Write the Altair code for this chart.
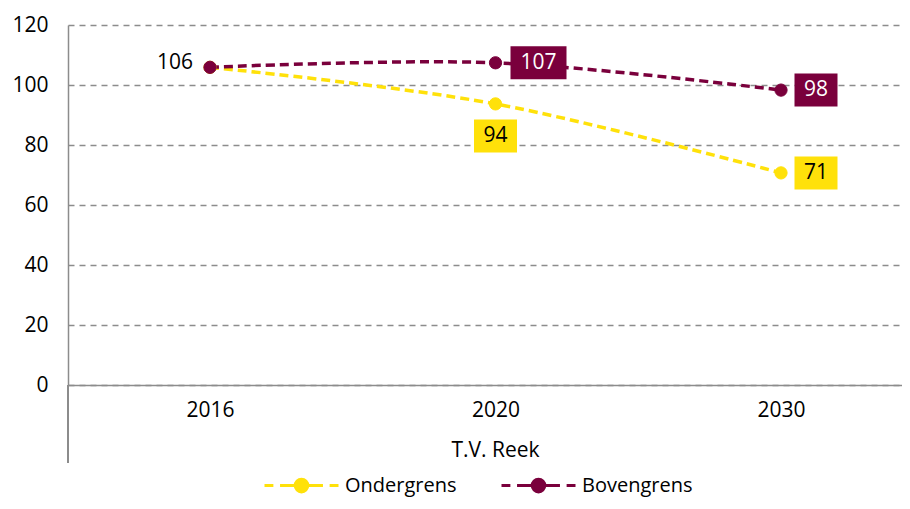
import altair as alt
import pandas as pd

# ---- data ----
years = ["2016", "2020", "2030"]
series = ["Ondergrens", "Bovengrens"]
ondergrens = [105.9, 93.7, 70.7]
bovengrens = [105.9, 107.4, 98.3]
label_onder = ["", "94", "71"]
label_boven = ["106", "107", "98"]
x_title = "T.V. Reek"

rows = []
for i, yr in enumerate(years):
    rows.append({"jaar": yr, "reeks": "Ondergrens", "waarde": ondergrens[i], "label": label_onder[i]})
    rows.append({"jaar": yr, "reeks": "Bovengrens", "waarde": bovengrens[i], "label": label_boven[i]})
df = pd.DataFrame(rows)

# ---- style ----
YELLOW = "#FFE10A"
MAROON = "#7A003C"
GRID = "#8C8C8C"
FONT = "Open Sans"
FS = 21
W, H = 834, 360
STEP = 285.5
FIRST = 142

years_js = "[" + ",".join("'%s'" % y for y in years) + "]"
xscale = alt.Scale(domain=[-FIRST / STEP, (W - FIRST) / STEP], nice=False, zero=False)
yscale = alt.Scale(domain=[0, 120])
sscale = alt.Scale(domain=series, range=[YELLOW, MAROON])

legend_path = ("M-1,0H-0.76M-0.58,0H-0.34"
               "M0.34,0H0.58M0.76,0H1"
               "M-0.17,0A0.17,0.17 0 1,0 0.17,0A0.17,0.17 0 1,0 -0.17,0Z"
               "M-0.34,0H0.34")
leg = alt.Legend(
    title=None, orient="none", legendX=195, legendY=422, direction="horizontal",
    symbolType=legend_path, symbolSize=5476, symbolStrokeWidth=3,
    labelFont=FONT, labelFontSize=20, labelColor="#000000", labelOffset=5,
    columnPadding=38, padding=0,
)

X = alt.X("idx:Q", scale=xscale,
          axis=alt.Axis(title=x_title, values=list(range(len(years))),
                        labelExpr=years_js + "[datum.value]",
                        ticks=False, labelPadding=14, labelFlush=False,
                        titleX=427, titleY=65, titleBaseline="middle", titleAlign="center",
                        domainColor=GRID, domainWidth=1.5, grid=False))
Y = alt.Y("waarde:Q", scale=yscale,
          axis=alt.Axis(title=None, values=[0, 20, 40, 60, 80, 100, 120], ticks=False,
                        labelPadding=20, domainColor=GRID, domainWidth=1.5,
                        gridColor=GRID, gridDash=[6, 5], gridWidth=1.5))

base = alt.Chart(df).transform_calculate(idx="indexof(" + years_js + ", datum.jaar)")

lines = base.mark_line(interpolate="cardinal", strokeDash=[9, 5], strokeWidth=3.5).encode(
    x=X, y=Y, stroke=alt.Stroke("reeks:N", scale=sscale, legend=leg), detail="reeks:N"
)
points = base.mark_point(shape="circle", size=150, filled=False, opacity=1, strokeWidth=1).encode(
    x=X, y=Y,
    stroke=alt.Stroke("reeks:N", scale=sscale, legend=leg),
    fill=alt.Fill("reeks:N", scale=sscale, legend=leg),
)

sep = base.mark_rule(color=GRID, strokeWidth=1.5).encode(
    x=alt.value(0), y=alt.value(H), y2=alt.value(H + 78)
)

# label boxes: (series, year, dx, dy, width, box colour, text colour)
box_style = [
    ("Bovengrens", "2020", 43, 0, 56, MAROON, "#FFFFFF"),
    ("Bovengrens", "2030", 35, 0, 43, MAROON, "#FFFFFF"),
    ("Ondergrens", "2020", 0, 32, 43, YELLOW, "#000000"),
    ("Ondergrens", "2030", 35, 0, 43, YELLOW, "#000000"),
]
label_layers = []
for reeks, jaar, dx, dy, w, bc, tc in box_style:
    sub = base.transform_filter(
        (alt.datum.reeks == reeks) & (alt.datum.jaar == jaar)
    )
    rect = sub.mark_rect(color=bc, xOffset=dx - w / 2, x2Offset=dx + w / 2,
                         yOffset=dy - 16.5, y2Offset=dy + 16.5).encode(
        x=X, x2="idx:Q", y=Y, y2="waarde:Q")
    txt = sub.mark_text(color=tc, font=FONT, fontSize=FS, dx=dx, dy=dy,
                        align="center", baseline="middle").encode(
        x=X, y=Y, text="label:N")
    label_layers += [rect, txt]

lbl106 = base.transform_filter(
    (alt.datum.reeks == "Bovengrens") & (alt.datum.jaar == "2016")
).mark_text(color="#000000", font=FONT, fontSize=FS, dx=-17, dy=-4,
            align="right", baseline="middle").encode(x=X, y=Y, text="label:N")

chart = alt.layer(lines, points, sep, *label_layers, lbl106).properties(
    width=W, height=H,
    autosize=alt.AutoSizeParams(type="none"),
    padding={"left": 60, "top": 17, "right": 0, "bottom": 116},
).configure_view(stroke=None).configure_axis(
    labelFont=FONT, labelFontSize=FS, labelColor="#000000",
    titleFont=FONT, titleFontSize=FS, titleColor="#000000", titleFontWeight="normal",
)

chart.save("out.html", embed_options={"renderer": "svg", "actions": False})
